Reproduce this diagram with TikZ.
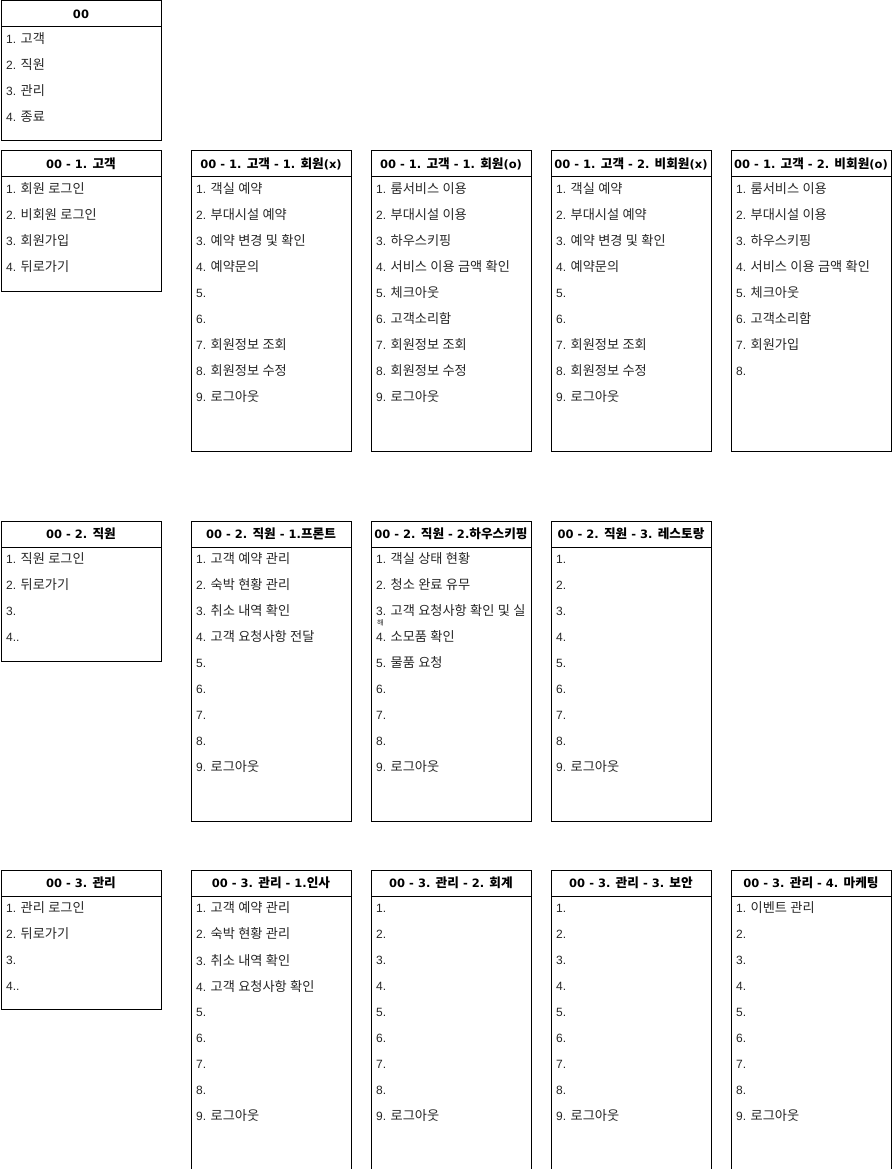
\documentclass[tikz,border=0pt]{standalone}
\usepackage{fontspec}
\setmainfont{Liberation Sans}
\newfontfamily\hdfont{DejaVu Sans}
\newfontfamily\krfont[Scale=1.1]{Noto Sans CJK KR}
\XeTeXinterchartokenstate=1
\newXeTeXintercharclass\KrClass
\newcount\krc
\krc="AC00
\loop \XeTeXcharclass\krc=\KrClass \ifnum\krc<"D7A3 \advance\krc by 1 \repeat
\XeTeXinterchartoks 0 \KrClass = {\begingroup\krfont}
\XeTeXinterchartoks 4095 \KrClass = {\begingroup\krfont}
\XeTeXinterchartoks \KrClass 0 = {\endgroup}
\XeTeXinterchartoks \KrClass 4095 = {\endgroup}
\newcommand\mkbox[6]{%
  \node[boxst,minimum height=#4pt] (#1) at (#2+0.5,#3+0.5) {};
  \node[hdst] (#1h) at (#2+0.5,#3+0.5) {#5};
  \foreach \t [count=\i] in {#6} {\node[itst] (#1i\i) at ({#2+6},{#3+39+26*(\i-1)}) {\t};}
}
\begin{document}
\begin{tikzpicture}[x=1pt,y=-1pt,
 boxst/.style={draw,line width=1pt,minimum width=160pt,inner sep=0pt,anchor=north west,fill=white},
 hdst/.style={draw,line width=1pt,minimum width=160pt,minimum height=26pt,inner sep=0pt,anchor=north west,font=\hdfont\bfseries\fontsize{11.5}{14}\selectfont},
 itst/.style={anchor=west,inner sep=0pt,text=black!85,font=\fontsize{12}{14}\selectfont}]
\useasboundingbox[fill=white] (0,0) rectangle (891,1169);
% row 0
\mkbox{A}{0}{0}{140}{00}{1. 고객, 2. 직원, 3. 관리, 4. 종료}
% row 1
\mkbox{B}{0}{150}{140}{00 - 1. 고객}{1. 회원 로그인, 2. 비회원 로그인, 3. 회원가입, 4. 뒤로가기}
\mkbox{C}{190}{150}{300}{00 - 1. 고객 - 1. 회원(x)}{1. 객실 예약, 2. 부대시설 예약, 3. 예약 변경 및 확인, 4. 예약문의, 5., 6., 7. 회원정보 조회, 8. 회원정보 수정, 9. 로그아웃}
\mkbox{D}{370}{150}{300}{00 - 1. 고객 - 1. 회원(o)}{1. 룸서비스 이용, 2. 부대시설 이용, 3. 하우스키핑, 4. 서비스 이용 금액 확인, 5. 체크아웃, 6. 고객소리함, 7. 회원정보 조회, 8. 회원정보 수정, 9. 로그아웃}
\mkbox{E}{550}{150}{300}{00 - 1. 고객 - 2. 비회원(x)}{1. 객실 예약, 2. 부대시설 예약, 3. 예약 변경 및 확인, 4. 예약문의, 5., 6., 7. 회원정보 조회, 8. 회원정보 수정, 9. 로그아웃}
\mkbox{F}{730}{150}{300}{00 - 1. 고객 - 2. 비회원(o)}{1. 룸서비스 이용, 2. 부대시설 이용, 3. 하우스키핑, 4. 서비스 이용 금액 확인, 5. 체크아웃, 6. 고객소리함, 7. 회원가입, 8.}
% row 2
\mkbox{G}{0}{520}{140}{00 - 2. 직원}{1. 직원 로그인, 2. 뒤로가기, 3., 4..}
\mkbox{H}{190}{520}{300}{00 - 2. 직원 - 1.프론트}{1. 고객 예약 관리, 2. 숙박 현황 관리, 3. 취소 내역 확인, 4. 고객 요청사항 전달, 5., 6., 7., 8., 9. 로그아웃}
\mkbox{I}{370}{520}{300}{00 - 2. 직원 - 2.하우스키핑}{1. 객실 상태 현황, 2. 청소 완료 유무, 3. 고객 요청사항 확인 및 실, 4. 소모품 확인, 5. 물품 요청, 6., 7., 8., 9. 로그아웃}
\node[itst,font=\fontsize{6.5}{8}\selectfont] (Ii3b) at (377,623) {해};
\mkbox{J}{550}{520}{300}{00 - 2. 직원 - 3. 레스토랑}{1., 2., 3., 4., 5., 6., 7., 8., 9. 로그아웃}
% row 3
\mkbox{K}{0}{869}{139}{00 - 3. 관리}{1. 관리 로그인, 2. 뒤로가기, 3., 4..}
\mkbox{L}{190}{869}{299}{00 - 3. 관리 - 1.인사}{1. 고객 예약 관리, 2. 숙박 현황 관리, 3. 취소 내역 확인, 4. 고객 요청사항 확인, 5., 6., 7., 8., 9. 로그아웃}
\mkbox{M}{370}{869}{299}{00 - 3. 관리 - 2. 회계}{1., 2., 3., 4., 5., 6., 7., 8., 9. 로그아웃}
\mkbox{N}{550}{869}{299}{00 - 3. 관리 - 3. 보안}{1., 2., 3., 4., 5., 6., 7., 8., 9. 로그아웃}
\mkbox{O}{730}{869}{299}{00 - 3. 관리 - 4. 마케팅}{1. 이벤트 관리, 2., 3., 4., 5., 6., 7., 8., 9. 로그아웃}
\end{tikzpicture}
\end{document}
